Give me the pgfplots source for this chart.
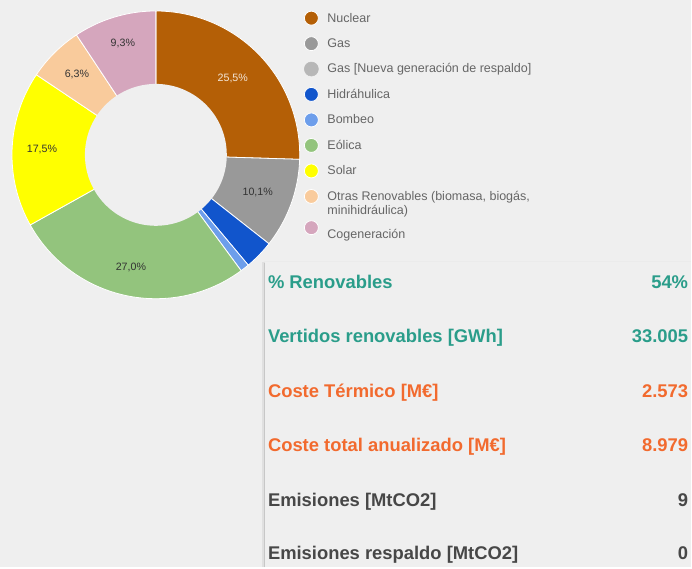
\documentclass[border=0pt]{standalone}
\usepackage{fontspec}
\setmainfont{Liberation Sans}
\usepackage{pgfplots}
\pgfplotsset{compat=1.18}
\definecolor{bgc}{HTML}{EFEFEF}
\definecolor{cnuc}{HTML}{B45F06}
\definecolor{cgas}{HTML}{999999}
\definecolor{cgasr}{HTML}{B7B7B7}
\definecolor{chid}{HTML}{1155CC}
\definecolor{cbom}{HTML}{6D9EEB}
\definecolor{ceol}{HTML}{93C47D}
\definecolor{csol}{HTML}{FFFF00}
\definecolor{cotr}{HTML}{F9CB9C}
\definecolor{ccog}{HTML}{D5A6BD}
\definecolor{legtext}{HTML}{666666}
\definecolor{cteal}{HTML}{2A9D8A}
\definecolor{corange}{HTML}{F26A2E}
\definecolor{cdark}{HTML}{474747}
\newcommand\tabfont{\fontsize{13.8pt}{16pt}\selectfont\bfseries}
\newcommand\lblfont{\fontsize{8pt}{9pt}\selectfont}
\begin{document}
\begin{tikzpicture}
\fill[bgc] (0,0) rectangle (519pt,426pt);
\begin{axis}[at={(0,0)}, anchor=south west, scale only axis,
  width=519pt, height=426pt,
  xmin=0, xmax=692, ymin=0, ymax=568, y dir=reverse,
  axis lines=none, clip=false,
  legend image code/.code={\fill (0pt,0pt) circle (5.25pt);},
  legend style={at={(axis cs:304,10.5)}, anchor=north west, draw=none, fill=none,
    inner sep=0pt, font=\fontsize{9.4pt}{10.5pt}\selectfont, text=legtext,
    row sep=8.05pt, nodes={inner sep=0pt, execute at begin node=\strut},
    /tikz/every odd column/.append style={column sep=6.5pt}},
  legend cell align=left,
]
% card edges
\draw[black!8, line width=1pt] (axis cs:264,262) -- (axis cs:692,262);
\draw[black!12, line width=2.2pt] (axis cs:263.5,568) -- (axis cs:263.5,262);
\draw[black!22, line width=0.8pt] (axis cs:264.5,568) -- (axis cs:264.5,263);
% slices (percent: 25.5, 10.1, 0, 3.3, 1.0, 27.0, 17.5, 6.3, 9.3)
\addplot[fill=cnuc, draw=white, line width=0.6pt, domain=0:91.8, samples=80] ({156+144*sin(x)},{155-144*cos(x)}) -- (axis cs:156,155) -- cycle;
\addlegendentry{Nuclear}
\addplot[fill=cgas, draw=white, line width=0.6pt, domain=91.8:128.16, samples=40] ({156+144*sin(x)},{155-144*cos(x)}) -- (axis cs:156,155) -- cycle;
\addlegendentry{Gas}
\addlegendimage{fill=cgasr, draw=cgasr}
\addlegendentry{Gas [Nueva generación de respaldo]}
\addplot[fill=chid, draw=white, line width=0.6pt, domain=128.16:140.04, samples=15] ({156+144*sin(x)},{155-144*cos(x)}) -- (axis cs:156,155) -- cycle;
\addlegendentry{Hidráhulica}
\addplot[fill=cbom, draw=white, line width=0.6pt, domain=140.04:143.64, samples=6] ({156+144*sin(x)},{155-144*cos(x)}) -- (axis cs:156,155) -- cycle;
\addlegendentry{Bombeo}
\addplot[fill=ceol, draw=white, line width=0.6pt, domain=143.64:240.84, samples=80] ({156+144*sin(x)},{155-144*cos(x)}) -- (axis cs:156,155) -- cycle;
\addlegendentry{Eólica}
\addplot[fill=csol, draw=white, line width=0.6pt, domain=240.84:303.84, samples=60] ({156+144*sin(x)},{155-144*cos(x)}) -- (axis cs:156,155) -- cycle;
\addlegendentry{Solar}
\addplot[fill=cotr, draw=white, line width=0.6pt, domain=303.84:326.52, samples=25] ({156+144*sin(x)},{155-144*cos(x)}) -- (axis cs:156,155) -- cycle;
\addlegendentry{\begin{tabular}[t]{@{}l@{}}Otras Renovables (biomasa, biogás,\\minihidráulica)\end{tabular}}
\addplot[fill=ccog, draw=white, line width=0.6pt, domain=326.52:360, samples=35] ({156+144*sin(x)},{155-144*cos(x)}) -- (axis cs:156,155) -- cycle;
\addlegendentry{\rule{0pt}{18.2pt}Cogeneración}
% hole
\addplot[fill=bgc, draw=none, domain=0:360, samples=150, forget plot] ({156+71*sin(x)},{155-71*cos(x)}) -- cycle;
% slice labels
\node[font=\lblfont, text=white!85!cnuc] at (axis cs:233,79) {25,5\%};
\node[font=\lblfont, text=black!80] at (axis cs:258,193) {10,1\%};
\node[font=\lblfont, text=black!80] at (axis cs:131,268) {27,0\%};
\node[font=\lblfont, text=black!80] at (axis cs:42,150) {17,5\%};
\node[font=\lblfont, text=black!80] at (axis cs:77,75) {6,3\%};
\node[font=\lblfont, text=black!80] at (axis cs:123,44) {9,3\%};
% table
\begin{scope}[every node/.style={inner sep=0pt, font=\tabfont}]
\node[anchor=base west, text=cteal] at (axis cs:268,289) {\% Renovables};
\node[anchor=base east, text=cteal] at (axis cs:689,289) {54\%};
\node[anchor=base west, text=cteal] at (axis cs:268,343.3) {Vertidos renovables [GWh]};
\node[anchor=base east, text=cteal] at (axis cs:689,343.3) {33.005};
\node[anchor=base west, text=corange] at (axis cs:268,397.7) {Coste Térmico [M€]};
\node[anchor=base east, text=corange] at (axis cs:689,397.7) {2.573};
\node[anchor=base west, text=corange] at (axis cs:268,452.3) {Coste total anualizado [M€]};
\node[anchor=base east, text=corange] at (axis cs:689,452.3) {8.979};
\node[anchor=base west, text=cdark] at (axis cs:268,506.7) {Emisiones [MtCO2]};
\node[anchor=base east, text=cdark] at (axis cs:689,506.7) {9};
\node[anchor=base west, text=cdark] at (axis cs:268,560) {Emisiones respaldo [MtCO2]};
\node[anchor=base east, text=cdark] at (axis cs:689,560) {0};
\end{scope}
\end{axis}
\end{tikzpicture}
\end{document}
